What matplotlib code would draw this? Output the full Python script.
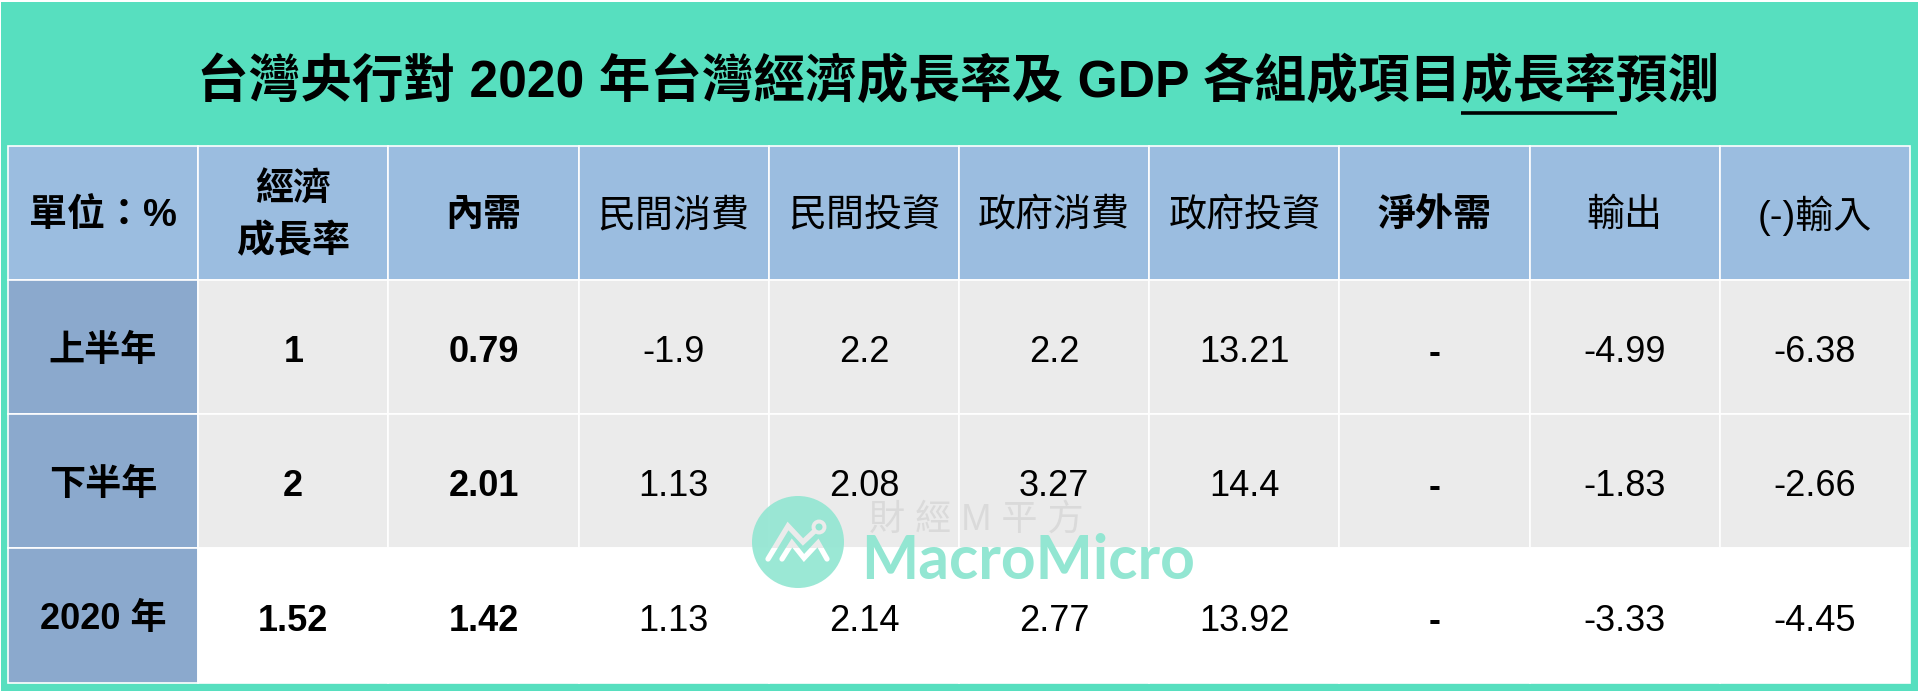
import matplotlib
matplotlib.use("Agg")
import matplotlib.pyplot as plt
from matplotlib.patches import Circle, Rectangle

FONT = ["Liberation Sans", "Noto Sans CJK TC"]

TITLE = "台灣央行對 2020 年台灣經濟成長率及 GDP 各組成項目成長率預測"
COLUMNS = ["單位：%", "經濟\n成長率", "內需", "民間消費", "民間投資", "政府消費",
           "政府投資", "淨外需", "輸出", "(-)輸入"]
ROWS = ["上半年", "下半年", "2020 年"]
H1 = ["1", "0.79", "-1.9", "2.2", "2.2", "13.21", "-", "-4.99", "-6.38"]
H2 = ["2", "2.01", "1.13", "2.08", "3.27", "14.4", "-", "-1.83", "-2.66"]
FULL_YEAR = ["1.52", "1.42", "1.13", "2.14", "2.77", "13.92", "-", "-3.33", "-4.45"]
BOLD_COLUMNS = [0, 1, 2, 7]

GREEN = "#57DFBF"
HEADER = "#9BBDE0"
ROW_HEAD = "#8BA9CD"
GREY = "#EBEBEB"
MINT = "#93E6D2"

# tabla en pixeles
LEFT, RIGHT = 8, 1910
COL_W = (RIGHT - LEFT) / len(COLUMNS)
ROW_EDGES = [146, 280, 414, 548, 683]


def draw_cell(ax, col, row, color):
    x = LEFT + col * COL_W
    y = ROW_EDGES[row]
    h = ROW_EDGES[row + 1] - y
    ax.add_patch(Rectangle((x, y), COL_W, h, fc=color, ec="white", lw=1.2))
    return x + COL_W / 2, y + h / 2


def draw_table(ax):
    for c, label in enumerate(COLUMNS):
        cx, cy = draw_cell(ax, c, 0, HEADER)
        weight = "bold" if c in BOLD_COLUMNS else "normal"
        ax.text(cx, cy + 3, label, family=FONT, fontsize=27.4, weight=weight,
                ha="center", va="center", linespacing=1.55, color="#000000")

    rows = [H1, H2, FULL_YEAR]
    fills = [GREY, GREY, "white"]
    for r, (name, values) in enumerate(zip(ROWS, rows)):
        cx, cy = draw_cell(ax, 0, r + 1, ROW_HEAD)
        ax.text(cx, cy + 4, name, family=FONT, fontsize=26, weight="bold",
                ha="center", va="center", color="#000000")
        for c, value in enumerate(values, start=1):
            cx, cy = draw_cell(ax, c, r + 1, fills[r])
            weight = "bold" if c in BOLD_COLUMNS else "normal"
            ax.text(cx, cy + 6, value, family=FONT, fontsize=26, weight=weight,
                    ha="center", va="center", color="#000000")


def draw_logo_line(ax, xs, ys):
    # el trazo es un recorte del circulo: deja ver el fondo de cada fila
    split = ROW_EDGES[3]
    for color, top, height in [(GREY, 480, split - 480), ("white", split, 60)]:
        line, = ax.plot(xs, ys, color=color, lw=3.8, solid_capstyle="round",
                        solid_joinstyle="miter", zorder=6)
        line.set_clip_path(Rectangle((740, top), 120, height, transform=ax.transData))


def draw_watermark(ax):
    ax.add_patch(Circle((798, 542), 46, fc=MINT, ec="none", alpha=0.92, zorder=5))
    draw_logo_line(ax, [768, 788, 803, 819], [559, 526, 542, 527])
    draw_logo_line(ax, [782, 792, 804, 818, 827], [559, 543, 558, 543, 559])
    ax.add_patch(Circle((819, 527), 5.5, fc=MINT, ec=GREY, lw=2.8, zorder=6))
    ax.text(976, 520, "財 經 M 平 方", family=FONT, fontsize=26, color="#DADADA",
            ha="center", va="center", zorder=6)
    ax.text(1028, 561, "MacroMicro", family=["Lato"], fontsize=43.7, weight="bold",
            color=MINT, ha="center", va="center", zorder=6)


def main():
    fig = plt.figure(figsize=(19.18, 6.92), dpi=100, facecolor="white")
    ax = fig.add_axes([0, 0, 1, 1])
    ax.set_xlim(0, 1918)
    ax.set_ylim(692, 0)
    ax.axis("off")

    ax.add_patch(Rectangle((1, 2), 1917, 689, fc=GREEN, ec="none"))
    ax.text(958.5, 83, TITLE, family=FONT, fontsize=37.2, weight="bold",
            ha="center", va="center", color="#000000")
    ax.plot([1461, 1617], [113, 113], color="#000000", lw=2.6, solid_capstyle="butt")

    draw_table(ax)
    draw_watermark(ax)

    fig.savefig("out.png", dpi=100, facecolor="white")
    plt.close(fig)


if __name__ == "__main__":
    main()
